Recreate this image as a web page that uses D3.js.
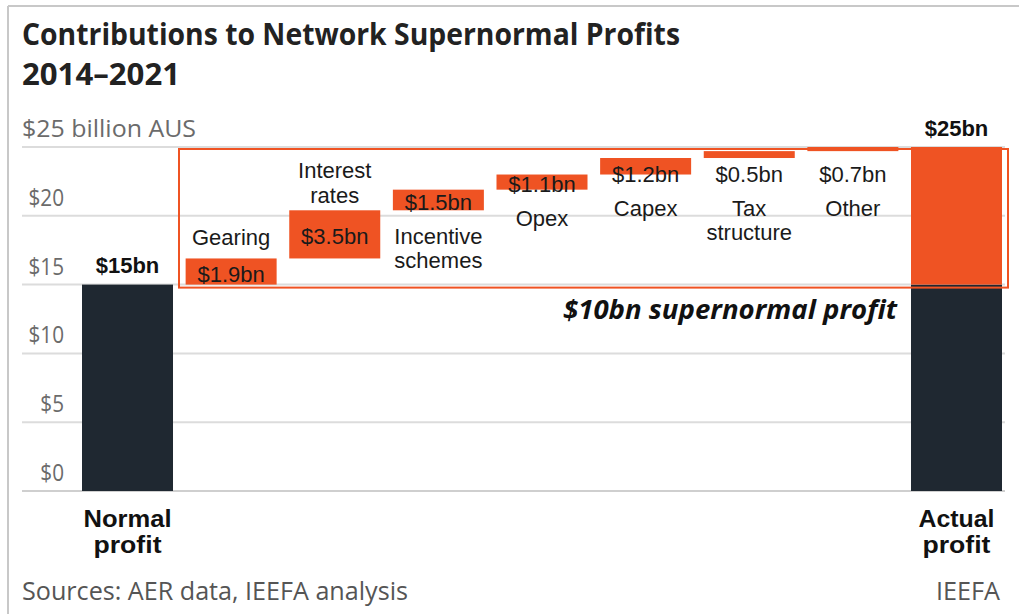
<!DOCTYPE html>
<html><head><meta charset="utf-8">
<script src="https://cdn.jsdelivr.net/npm/d3@7"></script>
<style>body{margin:0;background:#fff}svg{display:block}</style>
</head><body>
<svg id="c" width="1019" height="614"></svg>
<script>
const categories = ["Normal profit","Gearing","Interest rates","Incentive schemes","Opex","Capex","Tax structure","Other","Actual profit"];
const categoryLines = [["Normal","profit"],["Gearing"],["Interest","rates"],["Incentive","schemes"],["Opex"],["Capex"],["Tax","structure"],["Other"],["Actual","profit"]];
const normalProfit = 15;
const contributions = [1.9, 3.5, 1.5, 1.1, 1.2, 0.5, 0.7];
const contributionLabels = ["$1.9bn","$3.5bn","$1.5bn","$1.1bn","$1.2bn","$0.5bn","$0.7bn"];
const actualProfit = 25;
const yTicks = [0,5,10,15,20,25];
const yTickLabels = ["$0","$5","$10","$15","$20","$25 billion AUS"];

const ORANGE = "#ef5323", DARK = "#1f2831", GRID = "#dcdcdc", TICK = "#6b6b6b";
const svg = d3.select("#c");

function condense(sel, factor){
  sel.each(function(){
    const w = this.getComputedTextLength();
    d3.select(this).attr("textLength", w*factor).attr("lengthAdjust","spacingAndGlyphs");
  });
  return sel;
}

// frame border
svg.append("line").attr("x1",8).attr("x2",1019).attr("y1",6).attr("y2",6).attr("stroke","#c8c8c8").attr("stroke-width",2);
svg.append("line").attr("x1",8).attr("x2",8).attr("y1",6).attr("y2",614).attr("stroke","#c8c8c8").attr("stroke-width",2);

// title
svg.append("text").attr("x",22).attr("y",45).attr("font-family","Open Sans").attr("font-weight",700)
  .attr("font-size",30).attr("fill","#222").attr("textLength",658).attr("lengthAdjust","spacingAndGlyphs")
  .text("Contributions to Network Supernormal Profits");
svg.append("text").attr("x",22).attr("y",85).attr("font-family","Open Sans").attr("font-weight",700)
  .attr("font-size",30).attr("fill","#222").attr("textLength",158).attr("lengthAdjust","spacingAndGlyphs")
  .text("2014–2021");

const y = d3.scaleLinear().domain([0,25]).range([491,147]);
const x = d3.scaleBand().domain(categories).range([82,1002]).paddingInner(0.1218).paddingOuter(0);

// gridlines + ticks
yTicks.forEach((t,i)=>{
  svg.append("line").attr("x1",22).attr("x2",1005).attr("y1",y(t)).attr("y2",y(t))
    .attr("stroke", t===0 ? "#cfcfcf" : GRID).attr("stroke-width",2);
  const last = i===yTicks.length-1;
  const tx = svg.append("text").attr("y",y(t)-10).attr("font-family","Open Sans").attr("font-size",23)
    .attr("fill",TICK).text(yTickLabels[i]);
  if(last){ tx.attr("x",22).attr("textLength",174).attr("lengthAdjust","spacingAndGlyphs"); }
  else { tx.attr("x",64).attr("text-anchor","end"); condense(tx,0.9); }
});

// normal profit bar
const bw = x.bandwidth();
svg.append("rect").attr("x",x(categories[0])).attr("width",bw).attr("y",y(normalProfit)).attr("height",y(0)-y(normalProfit)).attr("fill",DARK);
svg.append("text").attr("x",x(categories[0])+bw/2).attr("y",y(normalProfit)-12).attr("text-anchor","middle")
  .attr("font-family","Liberation Sans").attr("font-weight",700).attr("font-size",22).attr("fill","#111").text("$15bn");

// actual profit bar
const last = categories[categories.length-1];
svg.append("rect").attr("x",x(last)).attr("width",bw).attr("y",y(normalProfit)).attr("height",y(0)-y(normalProfit)).attr("fill",DARK);
svg.append("rect").attr("x",x(last)).attr("width",bw).attr("y",y(actualProfit)).attr("height",y(normalProfit)-y(actualProfit)).attr("fill",ORANGE);
svg.append("text").attr("x",x(last)+bw/2).attr("y",y(actualProfit)-11).attr("text-anchor","middle")
  .attr("font-family","Liberation Sans").attr("font-weight",700).attr("font-size",22).attr("fill","#111").text("$25bn");

// supernormal frame
svg.append("rect").attr("x",179).attr("y",y(actualProfit)+2).attr("width",1008-179).attr("height",y(normalProfit)+3-(y(actualProfit)+2))
  .attr("fill","none").attr("stroke",ORANGE).attr("stroke-width",2);

// waterfall
let cum = normalProfit;
contributions.forEach((v,i)=>{
  const cat = categories[i+1];
  const start = cum, end = Math.min(actualProfit, cum+v);
  cum += v;
  const yTop = y(end), yBot = y(start);
  const x0 = x(cat), cx = x0+bw/2;
  svg.append("rect").attr("x",x0).attr("width",bw).attr("y",yTop).attr("height",Math.max(2,yBot-yTop)).attr("fill",ORANGE);
  const mid = (yTop+yBot)/2;
  const vc = Math.max(mid+2, y(23)-1);
  svg.append("text").attr("x",cx).attr("y",vc+8).attr("text-anchor","middle")
    .attr("font-family","Liberation Sans").attr("font-size",22).attr("fill","#1a1a1a").text(contributionLabels[i]);
  const lines = categoryLines[i+1];
  const above = i < 2;
  lines.forEach((ln,j)=>{
    let c;
    if(above){ c = vc - 37 - (lines.length-1)*4 - (lines.length-1-j)*25; }
    else { c = vc + 34 + j*24; }
    svg.append("text").attr("x",cx).attr("y",c+8).attr("text-anchor","middle")
      .attr("font-family","Liberation Sans").attr("font-size",22).attr("fill","#1a1a1a").text(ln);
  });
});

// supernormal note
svg.append("text").attr("x",897).attr("y",319).attr("text-anchor","end").attr("font-family","Open Sans")
  .attr("font-weight",700).attr("font-style","italic").attr("font-size",27).attr("fill","#111")
  .attr("textLength",334).attr("lengthAdjust","spacingAndGlyphs").text("$10bn supernormal profit");

// category labels for totals
const totalWidths = {"Normal":88,"profit":68,"Actual":76};
[categories[0], last].forEach((cat,k)=>{
  const lines = categoryLines[k===0?0:categoryLines.length-1];
  lines.forEach((ln,j)=>{
    svg.append("text").attr("x",x(cat)+bw/2).attr("y",527+j*26).attr("text-anchor","middle")
      .attr("font-family","Liberation Sans").attr("font-weight",700).attr("font-size",23).attr("fill","#111")
      .attr("textLength", totalWidths[ln]).attr("lengthAdjust","spacingAndGlyphs").text(ln);
  });
});

// footer
svg.append("text").attr("x",22).attr("y",600).attr("font-family","Open Sans").attr("font-size",25).attr("fill","#555")
  .attr("textLength",386).attr("lengthAdjust","spacingAndGlyphs").text("Sources: AER data, IEEFA analysis");
svg.append("text").attr("x",1000).attr("y",600).attr("text-anchor","end").attr("font-family","Open Sans").attr("font-size",25).attr("fill","#555")
  .attr("textLength",64).attr("lengthAdjust","spacingAndGlyphs").text("IEEFA");
</script>
</body></html>
